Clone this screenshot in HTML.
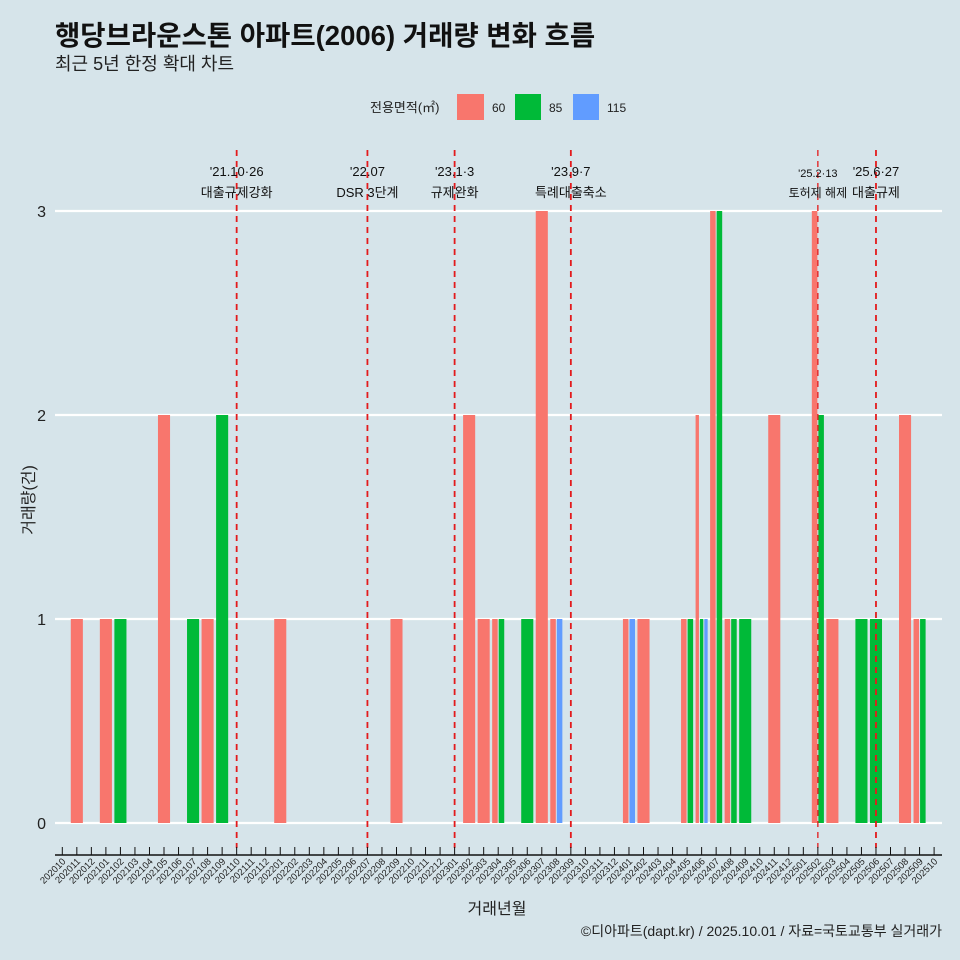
<!DOCTYPE html>
<html><head><meta charset="utf-8">
<style>
body{margin:0;background:#d6e4ea;}
svg{display:block;font-family:"Liberation Sans","Noto Sans CJK KR",sans-serif;}
</style></head>
<body>
<svg id="chart" width="960" height="960" viewBox="0 0 960 960">
<rect width="960" height="960" fill="#d6e4ea"/>
<text x="55" y="45" font-size="27.5" font-weight="bold" fill="#111">행당브라운스톤 아파트(2006) 거래량 변화 흐름</text>
<text x="55" y="70" font-size="18" fill="#222">최근 5년 한정 확대 차트</text>
<g>
<text x="370" y="112" font-size="13" fill="#222">전용면적(㎡)</text>
<rect x="457" y="94" width="27" height="26" fill="#f8766d"/>
<text x="492" y="112" font-size="12" fill="#222">60</text>
<rect x="515" y="94" width="26" height="26" fill="#00ba38"/>
<text x="549" y="112" font-size="12" fill="#222">85</text>
<rect x="573" y="94" width="26" height="26" fill="#619cff"/>
<text x="607" y="112" font-size="12" fill="#222">115</text>
</g>
<g id="grid"></g><g id="bars"></g><g id="events"></g><g id="xaxis"></g>
<text transform="translate(34,500) rotate(-90)" text-anchor="middle" font-size="16" fill="#222">거래량(건)</text>
<text x="497" y="914" text-anchor="middle" font-size="16" fill="#222">거래년월</text>
<text x="942" y="936" text-anchor="end" font-size="14" fill="#222">©디아파트(dapt.kr) / 2025.10.01 / 자료=국토교통부 실거래가</text>
</svg>
<script>
const months=[];for(let y=2020;y<=2025;y++)for(let m=1;m<=12;m++){const k=y*100+m;if(k>=202010&&k<=202510)months.push(String(k));}
const barMonths=['202011','202101','202102','202105','202107','202108','202109','202201','202209','202302','202303','202304','202306','202307','202308','202401','202402','202405','202406','202407','202408','202409','202411','202502','202503','202505','202506','202508','202509'];
const s60 =[1,1,0,2,0,1,0,1,1,2,1,1,0,3,1,1,1,1,2,3,1,0,2,3,1,0,0,2,1];
const s85 =[0,0,1,0,1,0,2,0,0,0,0,1,1,0,0,0,0,1,1,3,1,1,0,2,0,1,1,0,1];
const s115=[0,0,0,0,0,0,0,0,0,0,0,0,0,0,1,1,0,0,1,0,0,0,0,0,0,0,0,0,0];
const yTicks=[0,1,2,3];
const eventMonths=['202110','202207','202301','202309','202502','202506'];
const eventDates=["'21.10·26","'22.07","'23.1·3","'23.9·7","'25.2·13","'25.6·27"];
const eventLabels=['대출규제강화','DSR 3단계','규제완화','특례대출축소','토허제 해제','대출규제'];
const colors=['#f8766d','#00ba38','#619cff'];
const NS='http://www.w3.org/2000/svg';
const X0=62.3,STEP=14.53;
function x(m){return X0+months.indexOf(m)*STEP;}
function y(v){return 823-v*204;}
function mk(t,a,p){const e=document.createElementNS(NS,t);for(const k in a)e.setAttribute(k,a[k]);p.appendChild(e);return e;}
const grid=document.getElementById('grid');
yTicks.forEach(v=>{
 const l=mk('line',{x1:55,x2:942,y1:y(v),y2:y(v),stroke:'#fff','stroke-width':2.2},grid);
 
 
 const t=mk('text',{x:46,y:y(v)+6,'text-anchor':'end','font-size':16,fill:'#222'},grid);t.textContent=v;
 
 
});
const bars=document.getElementById('bars');
barMonths.forEach((m,i)=>{
 const vals=[s60[i],s85[i],s115[i]];
 const idx=[0,1,2].filter(k=>vals[k]>0);
 const w=STEP*0.9/idx.length;let left=x(m)-STEP*0.45;
 idx.forEach(k=>{
  const r=mk('rect',{x:left+0.5,y:y(vals[k]),width:w-1,height:y(0)-y(vals[k]),fill:colors[k]},bars);
  
  
  left+=w;
 });
});
const ev=document.getElementById('events');
eventMonths.forEach((m,i)=>{
 const small=i===4;
 const l=mk('line',{x1:x(m),x2:x(m),y1:150,y2:848,stroke:'#e31a1c','stroke-width':small?1.3:1.8,'stroke-dasharray':'6 5'},ev);
 
 
 const t1=mk('text',{x:x(m),y:small?177:176,'text-anchor':'middle','font-size':small?11:13,fill:'#111'},ev);t1.textContent=eventDates[i];
 
 
 const t2=mk('text',{x:x(m),y:197,'text-anchor':'middle','font-size':small?12:13,fill:'#111'},ev);t2.textContent=eventLabels[i];
 
 
});
const xa=document.getElementById('xaxis');
const al=mk('line',{x1:55,x2:942,y1:855,y2:855,stroke:'#111','stroke-width':1.5},xa);


months.forEach(m=>{
 const tk=mk('line',{x1:x(m),x2:x(m),y1:847,y2:855,stroke:'#111','stroke-width':1},xa);
 
 
 const t=mk('text',{x:x(m)+4,y:862,'text-anchor':'end','font-size':9.5,fill:'#222',transform:`rotate(-45 ${x(m)+4} 862)`},xa);t.textContent=m;
 
 
});
</script>
</body></html>
